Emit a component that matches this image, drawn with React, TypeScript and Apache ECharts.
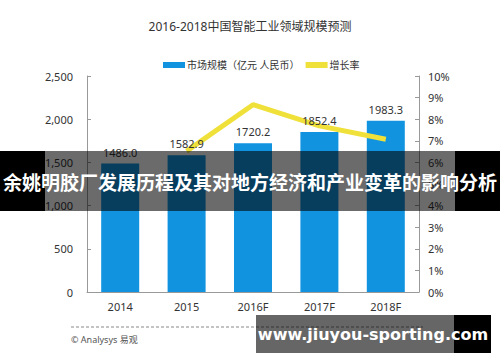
import React, { useEffect, useRef } from "react";
import * as echarts from "echarts";

const categories = ["2014", "2015", "2016F", "2017F", "2018F"];
const marketSize = [1486.0, 1582.9, 1720.2, 1852.4, 1983.3];
const growthRate = [null, 6.52, 8.67, 7.69, 7.07];
const leftTicks = { min: 0, max: 2500, interval: 500 };
const rightTicks = { min: 0, max: 10, interval: 1 };

const titleText = "2016-2018中国智能工业领域规模预测";
const barName = "市场规模（亿元 人民币）";
const lineName = "增长率";
const bannerText = "余姚明胶厂发展历程及其对地方经济和产业变革的影响分析";
const siteText = "www.jiuyou-sporting.com";
const sourceText = "© Analysys 易观";

const FONT = "'Noto Sans', 'Noto Sans CJK SC', sans-serif";

export default function App() {
  const ref = useRef<HTMLDivElement>(null);
  useEffect(() => {
    if (!ref.current) return;
    const chart = echarts.init(ref.current, null, { renderer: "svg" });
    chart.setOption({
      animation: false,
      backgroundColor: "#ffffff",
      textStyle: { fontFamily: FONT },
      title: {
        text: titleText,
        left: "center",
        top: 15,
        textStyle: { fontSize: 12, fontWeight: "normal", color: "#333", fontFamily: FONT },
      },
      legend: {
        top: 55,
        left: 158,
        itemGap: 6,
        itemWidth: 22,
        itemHeight: 6,
        textStyle: { fontSize: 10, color: "#333", fontFamily: FONT, padding: [0, 0, 0, -3] },
        data: [
          { name: barName, icon: "rect" },
          { name: lineName, icon: "rect" },
        ],
      },
      grid: { left: 87, right: 81, top: 76, bottom: 70 },
      xAxis: {
        type: "category",
        data: categories,
        axisLine: { lineStyle: { color: "#999" } },
        axisTick: { show: false },
        axisLabel: { color: "#333", fontSize: 11, margin: 9 },
      },
      yAxis: [
        {
          type: "value",
          ...leftTicks,
          splitLine: { show: false },
          axisLine: { show: true, lineStyle: { color: "#999" } },
          axisTick: { show: true, inside: true, length: 4, lineStyle: { color: "#999" } },
          axisLabel: {
            color: "#333",
            fontSize: 11,
            margin: 14,
            formatter: (v: number) => v.toLocaleString("en-US"),
          },
        },
        {
          type: "value",
          ...rightTicks,
          splitLine: { show: false },
          axisLine: { show: true, lineStyle: { color: "#999" } },
          axisTick: { show: true, inside: true, length: 4, lineStyle: { color: "#999" } },
          axisLabel: { color: "#333", fontSize: 11, margin: 9, formatter: "{value}%" },
        },
      ],
      series: [
        {
          name: barName,
          type: "bar",
          data: marketSize,
          barWidth: 38,
          itemStyle: { color: "#1193e0" },
          z: 2,
        },
        {
          name: lineName,
          type: "line",
          yAxisIndex: 1,
          data: growthRate,
          showSymbol: false,
          symbol: "none",
          itemStyle: { color: "#efe13a" },
          lineStyle: { color: "#efe13a", width: 5 },
          z: 3,
        },
        {
          name: "labels",
          type: "bar",
          data: marketSize,
          barWidth: 38,
          barGap: "-100%",
          silent: true,
          itemStyle: { color: "rgba(0,0,0,0)" },
          label: {
            show: true,
            position: "top",
            color: "#333",
            fontSize: 11,
            distance: 6,
            formatter: (p: any) => Number(p.value).toFixed(1),
          },
          z: 4,
        },
      ],
      graphic: [
        {
          type: "line",
          shape: { x1: 71, y1: 327, x2: 423, y2: 327 },
          style: { stroke: "#888", lineWidth: 1, lineDash: [3, 2] },
          z: 50,
        },
        {
          type: "text",
          left: 71,
          top: 335,
          style: { text: sourceText, fontSize: 9, fill: "#555", fontFamily: FONT },
          z: 50,
        },
        {
          type: "rect",
          shape: { x: 0, y: 151, width: 45, height: 60 },
          style: { fill: "#000" },
          z: 100,
        },
        {
          type: "rect",
          shape: { x: 455, y: 151, width: 45, height: 60 },
          style: { fill: "#000" },
          z: 100,
        },
        {
          type: "rect",
          shape: { x: 45, y: 151, width: 410, height: 60 },
          style: { fill: "rgba(0,0,0,0.58)" },
          z: 100,
        },
        {
          type: "text",
          x: 250,
          y: 181,
          style: {
            text: bannerText,
            fontSize: 19,
            fontWeight: "bold",
            fill: "#fff",
            align: "center",
            verticalAlign: "middle",
            fontFamily: "'Noto Sans CJK SC', sans-serif",
          },
          z: 101,
        },
        {
          type: "rect",
          shape: { x: 256, y: 315, width: 198, height: 38 },
          style: { fill: "rgba(0,0,0,0.6)" },
          z: 100,
        },
        {
          type: "rect",
          shape: { x: 454, y: 315, width: 37, height: 38 },
          style: { fill: "#000" },
          z: 100,
        },
        {
          type: "text",
          x: 373,
          y: 334,
          style: {
            text: siteText,
            fontSize: 16,
            fontWeight: "bold",
            fill: "#fff",
            align: "center",
            verticalAlign: "middle",
            fontFamily: "'DejaVu Sans', sans-serif",
          },
          z: 101,
        },
      ],
    });
    return () => chart.dispose();
  }, []);
  return (
    <div
      ref={ref}
      style={{ position: "fixed", left: 0, top: 0, width: 500, height: 362 }}
    />
  );
}
